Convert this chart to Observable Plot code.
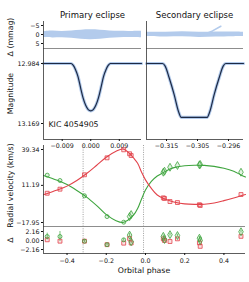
<!DOCTYPE html>
<html><head><meta charset="utf-8">
<script src="https://cdn.jsdelivr.net/npm/d3@7"></script>
<script src="https://cdn.jsdelivr.net/npm/@observablehq/plot@0.6"></script>
<style>
html,body{margin:0;padding:0;background:#fff;}
#fig{position:relative;width:249px;height:282px;overflow:hidden;font-family:"DejaVu Sans",sans-serif;background:#fff;}
#fig svg{position:absolute;left:0;top:0;background:transparent !important;}
</style></head><body><div id="fig"></div>
<script>
// ---------- DATA ----------
const starName = "KIC 4054905";
const panelTitles = ["Primary eclipse", "Secondary eclipse"];

// primary eclipse model (orbital phase, magnitude)
const primPhase = [-0.0149, -0.0062, -0.0055, -0.0048, -0.0040, -0.0032, -0.0024, -0.0016, -0.0008, 0.0, 0.0008, 0.0016, 0.0024, 0.0032, 0.0040, 0.0048, 0.0055, 0.0062, 0.0160];
const primMag   = [12.984, 12.984, 12.990, 13.003, 13.025, 13.059, 13.091, 13.113, 13.126, 13.130, 13.126, 13.113, 13.091, 13.059, 13.025, 13.003, 12.990, 12.984, 12.984];
// secondary eclipse model
const secPhase = [-0.3208, -0.3160, -0.3152, -0.3140, -0.3125, -0.3112, -0.3104, -0.3026, -0.3018, -0.3005, -0.2990, -0.2978, -0.2970, -0.2917];
const secMag   = [12.984, 12.984, 12.992, 13.028, 13.080, 13.132, 13.150, 13.150, 13.132, 13.080, 13.028, 12.992, 12.984, 12.984];

// photometric residual band (mmag)
const primBandPhase = [-0.0149, -0.012, -0.009, -0.006, -0.003, 0.0, 0.003, 0.006, 0.009, 0.012, 0.016];
const primBandLo    = [-1.6, -1.9, -1.7, -2.0, -2.4, -2.6, -2.4, -2.0, -1.8, -1.7, -1.8];
const primBandHi    = [1.7, 1.9, 1.8, 2.1, 2.7, 2.9, 2.6, 2.1, 1.8, 1.7, 1.8];
const secBandPhase = [-0.3208, -0.3150, -0.3100, -0.3050, -0.3000, -0.2950, -0.2917];
const secBandLo    = [-1.3, -1.2, -1.5, -1.2, -1.4, -1.4, -1.3];
const secBandHi    = [1.1, 1.4, 1.3, 1.6, 1.4, 1.2, 1.1];
const streakPhase = [-0.3035, -0.3010, -0.2985];
const streakRes   = [0.0, -2.0, -4.6];

// radial velocities (km/s)
const obsPhase = [-0.501, -0.436, -0.311, -0.196, -0.111, -0.081, -0.073, 0.091, 0.097, 0.125, 0.163, 0.275, 0.279, 0.487];
const rvRed    = [5.0, 8.2, 19.5, 32.8, 39.1, 36.0, 34.6, 1.4, 0.9, -1.5, -2.3, -4.0, -4.6, 4.0];
const rvGreen  = [19.2, 15.0, 3.0, -13.3, -17.7, -13.3, -11.7, 21.5, 22.3, 25.4, 26.8, 27.3, 27.6, 21.5];
const resRed   = [0.17, -0.16, -0.16, -1.0, -0.64, 0.5, -0.6, 0.4, 0.0, -0.24, 0.4, -0.56, -1.4, 1.0];
const resGreen = [0.96, 0.96, -0.16, -1.0, 0.16, 1.3, -0.3, 1.0, 0.24, 1.4, 1.2, 0.56, 0.0, 2.1];
const errGreen = [0.8, 1.2, 0.3, 0.3, 0.3, 0.4, 0.4, 0.3, 0.3, 0.3, 0.3, 0.4, 0.4, 0.3];
const greenSymbol = ["circle","circle","circle","circle","circle","diamond","diamond","diamond","diamond","diamond","diamond","diamond","diamond","diamond"];

// orbit model curves
const modelPhase = [-0.52, -0.45, -0.40, -0.35, -0.30, -0.25, -0.20, -0.15, -0.115, -0.09, -0.06, -0.04, -0.02, 0.0, 0.03, 0.06, 0.09, 0.125, 0.15, 0.20, 0.25, 0.30, 0.35, 0.40, 0.45, 0.487, 0.51];
const modelRed   = [3.9, 7.5, 10.6, 15.0, 20.5, 26.8, 33.3, 38.0, 39.7, 37.5, 32.5, 28.5, 21.5, 15.5, 8.8, 3.6, 1.0, -0.9, -2.0, -3.3, -3.7, -3.6, -2.6, -0.8, 1.3, 3.0, 4.0];
const modelGreen = [19.0, 15.2, 11.8, 7.2, 2.0, -4.5, -11.8, -16.5, -17.9, -16.2, -12.0, -7.0, 0.5, 7.5, 14.3, 18.5, 21.2, 24.0, 25.3, 26.6, 27.0, 26.9, 26.1, 24.6, 22.2, 19.4, 17.8];
const eclipseMarks = [-0.318, -0.01];

// ticks
const resTicks = [-5, 0, 5];
const magTicks = [12.984, 13.169];
const primTicks = [-0.009, 0, 0.009];
const primTickLabels = ["−0.009", "0.000", "0.009"];
const secTicks = [-0.3148, -0.3055, -0.2962];
const secTickLabels = ["−0.315", "−0.305", "−0.296"];
const rvTicks = [39.34, 11.19, -17.95];
const rvResTicks = [2.16, 0, -2.16];
const phaseTicks = [-0.4, -0.2, 0, 0.2, 0.4];

// ---------- TABLES ----------
const prim = primPhase.map((p, i) => ({p, m: primMag[i]}));
const sec = secPhase.map((p, i) => ({p, m: secMag[i]}));
const primBand = primBandPhase.map((p, i) => ({p, lo: primBandLo[i], hi: primBandHi[i]}));
const secBand = secBandPhase.map((p, i) => ({p, lo: secBandLo[i], hi: secBandHi[i]}));
const streak = streakPhase.map((p, i) => ({p, r: streakRes[i]}));
const obs = obsPhase.map((p, i) => ({p, red: rvRed[i], green: rvGreen[i], rr: resRed[i], rg: resGreen[i], eg: errGreen[i], sym: greenSymbol[i]}));
const model = modelPhase.map((p, i) => ({p, red: modelRed[i], green: modelGreen[i]}));

// ---------- STYLE ----------
const W = 249, H = 282;
const RED = "#e2434b", GREEN = "#3fa53f", LIGHT = "#b3cbec", NAVY = "#1d2a45", SPINE = "#333", SEP = "#808080";
const minus = s => s.replace("-", "−");

function panel({L, R, T, B, x, y, marks}) {
  return Plot.plot({
    width: W, height: H,
    marginLeft: L, marginRight: W - R, marginTop: T, marginBottom: H - B,
    x, y,
    style: {background: "transparent", fontFamily: "'DejaVu Sans', sans-serif", fontSize: "6.3px", color: "#111", overflow: "visible"},
    marks
  });
}

const xPrim = [-0.0149, 0.0160];
const xSec = [-0.3208, -0.2917];
const yRes = [7.78, -7.22];
const yMag = [13.2183, 12.9378];
const xOrb = [-0.520, 0.510];
const yRV = [-21.09, 42.48];
const yRVres = [-3.12, 3.36];

const fig = document.getElementById("fig");
const plots = [];

// primary residuals
plots.push(panel({L: 43, R: 141, T: 21, B: 48,
  x: {domain: xPrim, axis: null}, y: {domain: yRes},
  marks: [
    Plot.areaY(primBand, {x: "p", y1: "lo", y2: "hi", fill: LIGHT, curve: "catmull-rom"}),
    Plot.ruleY([yRes[0]], {stroke: SEP, strokeWidth: 0.9}),
    Plot.ruleX([xPrim[0]], {stroke: SPINE, strokeWidth: 0.8}),
    Plot.axisY({ticks: resTicks, tickFormat: d => minus(String(d)), tickSize: 2, tickPadding: 2, label: null})
  ]}));

// primary magnitude
plots.push(panel({L: 43, R: 141, T: 48, B: 139,
  x: {domain: xPrim}, y: {domain: yMag},
  marks: [
    Plot.line(prim, {x: "p", y: "m", stroke: LIGHT, strokeWidth: 3.2, curve: "monotone-x"}),
    Plot.line(prim, {x: "p", y: "m", stroke: NAVY, strokeWidth: 1.2, curve: "monotone-x"}),
    Plot.ruleX([xPrim[0]], {stroke: SPINE, strokeWidth: 0.8}),
    Plot.ruleY([yMag[0]], {stroke: SPINE, strokeWidth: 0.8}),
    Plot.axisY({ticks: magTicks, tickFormat: d => d.toFixed(3), tickSize: 2, tickPadding: 2, label: null}),
    Plot.axisX({ticks: primTicks, tickFormat: d => primTickLabels[primTicks.indexOf(d)], tickSize: 2, tickPadding: 2, label: null}),
    Plot.text([starName], {frameAnchor: "bottom-left", text: d => d, dx: 5, dy: -13, fontSize: 7.8, textAnchor: "start", fill: "#111"})
  ]}));

// secondary residuals
plots.push(panel({L: 146, R: 243, T: 21, B: 48,
  x: {domain: xSec, axis: null}, y: {domain: yRes, axis: null},
  marks: [
    Plot.areaY(secBand, {x: "p", y1: "lo", y2: "hi", fill: LIGHT, curve: "catmull-rom"}),
    Plot.line(streak, {x: "p", y: "r", stroke: LIGHT, strokeWidth: 1.6}),
    Plot.ruleY([yRes[0]], {stroke: SEP, strokeWidth: 0.9}),
    Plot.ruleX([xSec[0]], {stroke: SPINE, strokeWidth: 0.8})
  ]}));

// secondary magnitude
plots.push(panel({L: 146, R: 243, T: 48, B: 139,
  x: {domain: xSec}, y: {domain: yMag, axis: null},
  marks: [
    Plot.line(sec, {x: "p", y: "m", stroke: LIGHT, strokeWidth: 3.2, curve: "monotone-x"}),
    Plot.line(sec, {x: "p", y: "m", stroke: NAVY, strokeWidth: 1.2, curve: "monotone-x"}),
    Plot.ruleX([xSec[0]], {stroke: SPINE, strokeWidth: 0.8}),
    Plot.ruleY([yMag[0]], {stroke: SPINE, strokeWidth: 0.8}),
    Plot.axisX({ticks: secTicks, tickFormat: d => secTickLabels[secTicks.indexOf(d)], tickSize: 2, tickPadding: 2, label: null})
  ]}));

// radial velocities
plots.push(panel({L: 43, R: 245, T: 145, B: 226,
  x: {domain: xOrb, axis: null}, y: {domain: yRV},
  marks: [
    Plot.ruleX(eclipseMarks, {stroke: "#888", strokeWidth: 0.8, strokeDasharray: "1,1.3"}),
    Plot.line(model, {x: "p", y: "green", stroke: GREEN, strokeWidth: 1.1, curve: "catmull-rom"}),
    Plot.line(model, {x: "p", y: "red", stroke: RED, strokeWidth: 1.1, curve: "catmull-rom"}),
    Plot.dot(obs, {x: "p", y: "green", symbol: "circle", r: 2.0, stroke: GREEN, strokeWidth: 0.8, fill: GREEN, fillOpacity: 0.15, filter: d => d.sym === "circle"}),
    Plot.dot(obs, {x: "p", y: "green", symbol: "diamond", r: 2.4, stroke: GREEN, strokeWidth: 0.8, fill: GREEN, fillOpacity: 0.15, filter: d => d.sym === "diamond"}),
    Plot.dot(obs, {x: "p", y: "red", symbol: "square", r: 2.2, stroke: RED, strokeWidth: 0.8, fill: RED, fillOpacity: 0.15}),
    Plot.ruleX([xOrb[0]], {stroke: SPINE, strokeWidth: 0.8}),
    Plot.ruleY([yRV[0]], {stroke: SEP, strokeWidth: 0.9}),
    Plot.axisY({ticks: rvTicks, tickFormat: d => minus(d.toFixed(2)), tickSize: 2, tickPadding: 2, label: null})
  ]}));

// RV residuals
plots.push(panel({L: 43, R: 245, T: 226, B: 253,
  x: {domain: xOrb}, y: {domain: yRVres},
  marks: [
    Plot.ruleX(eclipseMarks, {stroke: "#888", strokeWidth: 0.8, strokeDasharray: "1,1.3"}),
    Plot.ruleX(obs, {x: "p", y1: d => d.rg - d.eg, y2: d => d.rg + d.eg, stroke: GREEN, strokeWidth: 0.7}),
    Plot.dot(obs, {x: "p", y: "rr", symbol: "square", r: 2.2, stroke: RED, strokeWidth: 0.8, fill: RED, fillOpacity: 0.15}),
    Plot.dot(obs, {x: "p", y: "rg", symbol: "circle", r: 2.0, stroke: GREEN, strokeWidth: 0.8, fill: GREEN, fillOpacity: 0.15, filter: d => d.sym === "circle"}),
    Plot.dot(obs, {x: "p", y: "rg", symbol: "diamond", r: 2.4, stroke: GREEN, strokeWidth: 0.8, fill: GREEN, fillOpacity: 0.15, filter: d => d.sym === "diamond"}),
    Plot.ruleX([xOrb[0]], {stroke: SPINE, strokeWidth: 0.8}),
    Plot.ruleY([yRVres[0]], {stroke: SPINE, strokeWidth: 0.8}),
    Plot.axisY({ticks: rvResTicks, tickFormat: d => minus(d.toFixed(2)), tickSize: 2, tickPadding: 2, label: null}),
    Plot.axisX({ticks: phaseTicks, tickFormat: d => minus(d.toFixed(1)), tickSize: 2, tickPadding: 3, label: null})
  ]}));

plots.forEach(p => fig.appendChild(p));

// labels / titles
const svg = d3.select(fig).append("svg").attr("width", W).attr("height", H)
  .attr("font-family", "'DejaVu Sans', sans-serif").attr("fill", "#111");
svg.append("text").attr("x", 92.5).attr("y", 17.5).attr("text-anchor", "middle").attr("font-size", 8.5).text(panelTitles[0]);
svg.append("text").attr("x", 194.5).attr("y", 17.5).attr("text-anchor", "middle").attr("font-size", 8.5).text(panelTitles[1]);
const ylab = [["Δ (mmag)", 37], ["Magnitude", 93.5], ["Radial velocity (km/s)", 185.5], ["Δ", 240]];
ylab.forEach(([t, y]) => svg.append("text").attr("transform", `translate(10,${y}) rotate(-90)`)
  .attr("text-anchor", "middle").attr("dominant-baseline", "central").attr("font-size", 7.8).text(t));
svg.append("text").attr("x", 144).attr("y", 270.5).attr("text-anchor", "middle").attr("dominant-baseline", "central").attr("font-size", 7.8).text("Orbital phase");
</script>
</body></html>
